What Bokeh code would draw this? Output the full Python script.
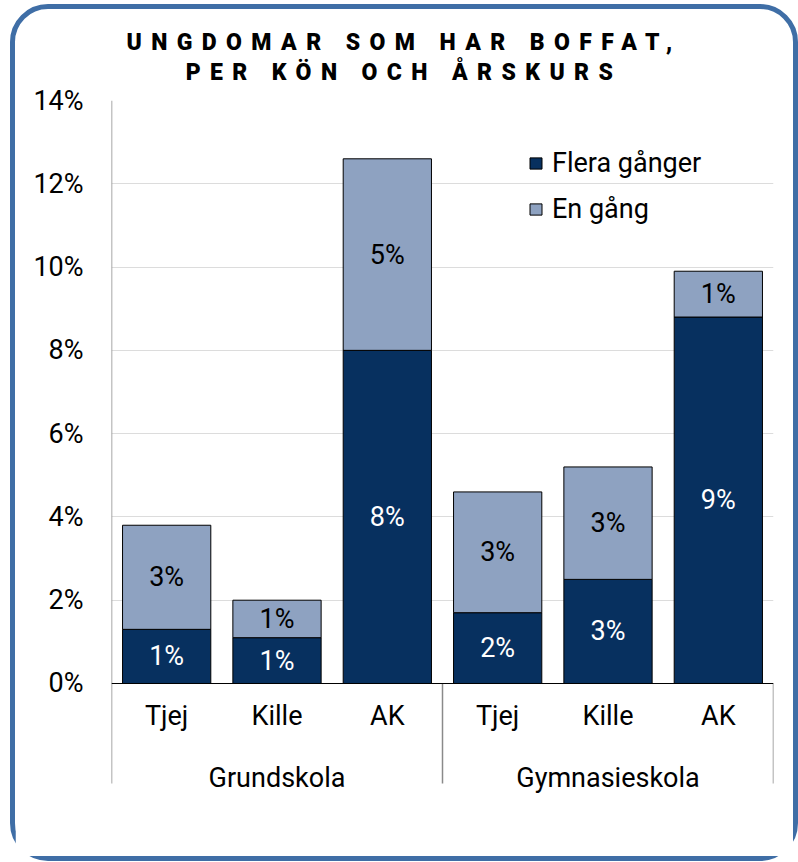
import math
from bokeh.plotting import figure
from bokeh.models import Range1d, FactorRange, Div, ColumnDataSource
from bokeh.layouts import column
from bokeh.core.properties import value
from bokeh.embed import file_html
from bokeh.resources import INLINE

# ---- data ----
groups = ["Grundskola", "Gymnasieskola"]
categories = ["Tjej", "Kille", "AK"]
flera_ganger = [1.3, 1.1, 8.0, 1.7, 2.5, 8.8]
en_gang = [2.5, 0.9, 4.6, 2.9, 2.7, 1.1]
series_names = ["Flera gånger", "En gång"]
y_ticks = [0, 2, 4, 6, 8, 10, 12, 14]
y_tick_labels = [f"{t}%" for t in y_ticks]
title_lines = ["UNGDOMAR SOM HAR BOFFAT,", "PER KÖN OCH ÅRSKURS"]

DARK = "#07305f"
LIGHT = "#8ea2c1"
AXIS_GREY = "#8a8a8a"
FONT = "Roboto"
FS = "27px"

x = [(g, c) for g in groups for c in categories]


def pct(v):
    return f"{math.floor(v + 0.5)}%"


source = ColumnDataSource(dict(
    x=x,
    flera=flera_ganger,
    en=en_gang,
    y_dark=[d / 2 for d in flera_ganger],
    y_light=[d + e / 2 for d, e in zip(flera_ganger, en_gang)],
    lab_dark=[pct(d) for d in flera_ganger],
    lab_light=[pct(e) for e in en_gang],
))

Y_TOP = y_ticks[-1]
Y_START = -2.81   # frame bottom (room for group labels)
Y_SEP = -2.40     # bottom end of the group separators
Y_GROUP = -2.26   # baseline of group labels

p = figure(
    x_range=FactorRange(factors=x, factor_padding=0, group_padding=0, range_padding=0),
    y_range=Range1d(Y_START, Y_TOP),
    width=778, height=772,
    min_border_left=96, min_border_right=20, min_border_top=16, min_border_bottom=56,
    output_backend="svg", toolbar_location=None,
)
p.outline_line_color = None
p.background_fill_color = "white"
p.border_fill_color = "white"

p.vbar_stack(["flera", "en"], x="x", width=0.8, source=source,
             fill_color=[DARK, LIGHT], line_color="black", line_width=1,
             legend_label=series_names)

p.text(x="x", y="y_dark", text="lab_dark", source=source, text_color="white",
       text_align="center", text_baseline="middle",
       text_font=value(FONT), text_font_size=FS)
p.text(x="x", y="y_light", text="lab_light", source=source, text_color="black",
       text_align="center", text_baseline="middle",
       text_font=value(FONT), text_font_size=FS)

# left axis line (drawn as segment so it stops where the separators stop)
left_edge = (groups[0], categories[0], -0.5)
p.segment(x0=[left_edge], y0=[Y_TOP], x1=[left_edge], y1=[Y_SEP],
          line_color=AXIS_GREY, line_width=1.5)

# group separators below the x axis
sep_x = [(g, categories[-1], 0.5) for g in groups]
p.segment(x0=sep_x, y0=[0] * len(sep_x), x1=sep_x, y1=[Y_SEP] * len(sep_x),
          line_color=AXIS_GREY, line_width=1.5)

# group labels
mid = categories[len(categories) // 2]
p.text(x=[(g, mid) for g in groups], y=[Y_GROUP] * len(groups), text=groups,
       text_align="center", text_baseline="alphabetic", text_color="black",
       text_font=value(FONT), text_font_size=FS)

# y axis
p.yaxis.ticker = y_ticks
p.yaxis.major_label_overrides = {t: l for t, l in zip(y_ticks, y_tick_labels)}
p.yaxis.axis_line_color = None
p.yaxis.major_tick_line_color = None
p.yaxis.minor_tick_line_color = None
p.yaxis.major_tick_out = 0
p.yaxis.major_label_standoff = 28
p.yaxis.major_label_text_font = FONT
p.yaxis.major_label_text_font_size = FS
p.yaxis.major_label_text_color = "black"

# x axis at y = 0
p.xaxis.fixed_location = 0
p.xaxis.axis_line_color = "black"
p.xaxis.axis_line_width = 1
p.xaxis.major_tick_line_color = None
p.xaxis.minor_tick_line_color = None
p.xaxis.major_tick_out = 0
p.xaxis.major_label_standoff = 17
p.xaxis.major_label_text_font = FONT
p.xaxis.major_label_text_font_size = FS
p.xaxis.major_label_text_color = "black"
p.xaxis.group_text_alpha = 0
p.xaxis.separator_line_alpha = 0

p.xgrid.visible = False
p.ygrid.grid_line_color = "#dcdcdc"
p.ygrid.grid_line_width = 1

# legend
lg = p.legend[0]
lg.location = (417, 575)
lg.padding = 0
lg.margin = 0
lg.border_line_color = None
lg.background_fill_alpha = 0
lg.label_text_font = FONT
lg.label_text_font_size = FS
lg.label_text_color = "black"
lg.glyph_width = 15
lg.glyph_height = 14
lg.label_height = 32
lg.label_standoff = 9
lg.spacing = 14

title = Div(
    text=("<div style=\"font-family:Roboto;font-weight:900;font-size:23px;"
          "letter-spacing:9.4px;text-align:center;color:black;"
          "width:744px;padding:19px 0 0 34px;\">"
          f"<div style=\"line-height:30px;\">{title_lines[0]}</div>"
          f"<div style=\"line-height:22px;margin-top:4px;\">{title_lines[1]}</div>"
          "</div>"),
    width=778, height=75, margin=0,
)

layout = column(title, p, styles={"border": "5px solid #3f6ea6",
                                  "border-radius": "38px",
                                  "margin": "4px 0 0 10px",
                                  "background": "white"})

open("out.html", "w").write(file_html(layout, INLINE))
